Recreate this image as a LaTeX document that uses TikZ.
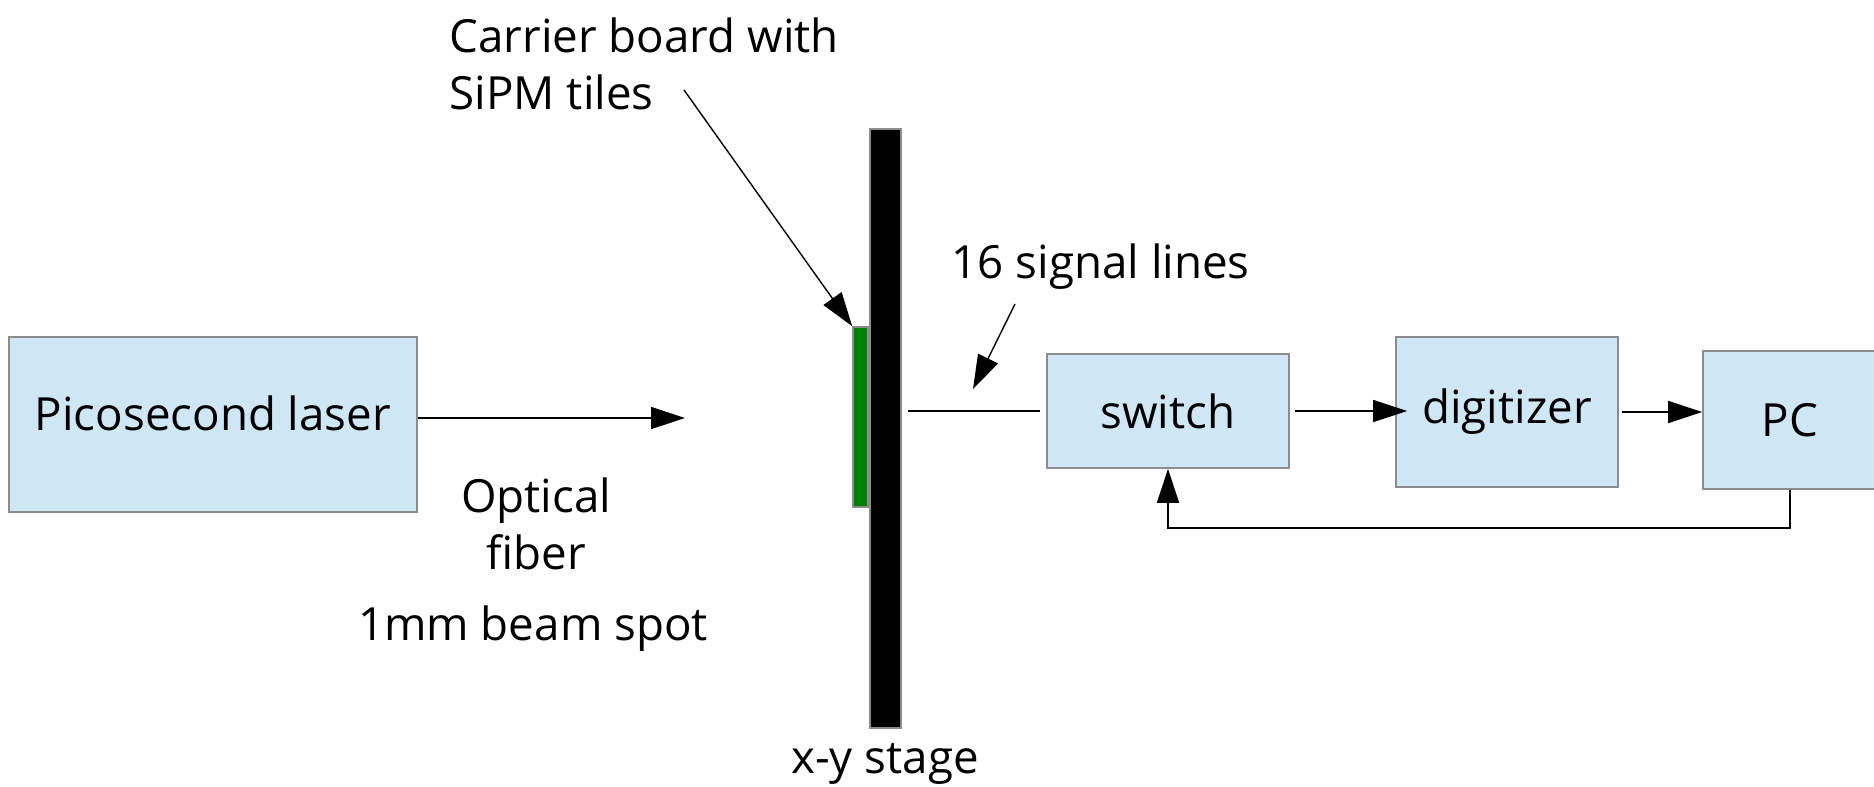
\documentclass[tikz,border=0pt]{standalone}
\usepackage{fontspec}
\setmainfont{Open Sans}
\usetikzlibrary{arrows.meta}
\definecolor{boxfill}{HTML}{CFE7F5}
\definecolor{boxline}{HTML}{8C8C8C}
\definecolor{tilegreen}{HTML}{008000}

\begin{document}
\begin{tikzpicture}[x=0.1mm, y=-0.1mm, >={Triangle[length=3.4mm, width=2.2mm]},
  font=\fontsize{13}{16.2}\selectfont,
  box/.style={draw=boxline, fill=boxfill, line width=0.45pt, inner sep=0pt},
  wire/.style={line width=0.4pt},
  lbl/.style={inner sep=0pt}]
  \useasboundingbox (0,0) rectangle (1874,786);
  % --- light source and x-y stage ---
  \node[box, minimum width=40.8mm, minimum height=17.5mm, text depth=2.3mm] (laser) at (213,424.5)
       {Picosecond laser};
  \node[draw=boxline, fill=black, line width=0.45pt, minimum width=3.1mm, minimum height=59.9mm,
        inner sep=0pt] (stage) at (885.5,428.5) {};
  \node[draw=boxline, fill=tilegreen, line width=0.45pt, minimum width=1.5mm, minimum height=18mm,
        inner sep=0pt] (tiles) at (860.5,417) {};
  \coordinate (beam) at (685,418);
  \draw[wire, ->] (laser.east |- beam) -- (beam);
  % --- readout chain ---
  \node[box, minimum width=24.2mm, minimum height=11.4mm] (switch) at (1168,411) {switch};
  \node[box, minimum width=22.2mm, minimum height=15mm] (digitizer) at (1507,412) {digitizer};
  \node[box, minimum width=17.4mm, minimum height=13.8mm] (pc) at (1790,420) {PC};
  \draw[wire, shorten <=0.6mm, shorten >=0.6mm] (stage.east |- switch.west) -- (switch.west);
  \draw[wire, ->, shorten <=0.5mm, shorten >=-1.2mm] (switch.east) -- (switch.east -| digitizer.west);
  \draw[wire, ->, shorten <=0.3mm] (digitizer.east) -- (digitizer.east -| pc.west);
  \draw[wire, ->] (pc.south) -- ++(0,38) -| (switch.south);
  % --- labels ---
  \node[lbl, anchor=west, align=left] (carrier) at (449,64) {Carrier board with\\SiPM tiles};
  \coordinate (carrierptr) at (684,90);
  \draw[wire, ->] (carrierptr) -- (tiles.north west);
  \node[lbl, anchor=base west] (signals) at (951,278) {16 signal lines};
  \coordinate (sigfrom) at (1015,304);
  \coordinate (sigto) at (973,389);
  \draw[wire, ->] (sigfrom) -- (sigto);
  \node[lbl, anchor=north, align=center] (fiber) at (536,477) {Optical\\fiber};
  \node[lbl, anchor=base] (spot) at (533,640) {1mm beam spot};
  \node[lbl, anchor=base] (stagelabel) at (885,773) {x-y stage};
\end{tikzpicture}
\end{document}
